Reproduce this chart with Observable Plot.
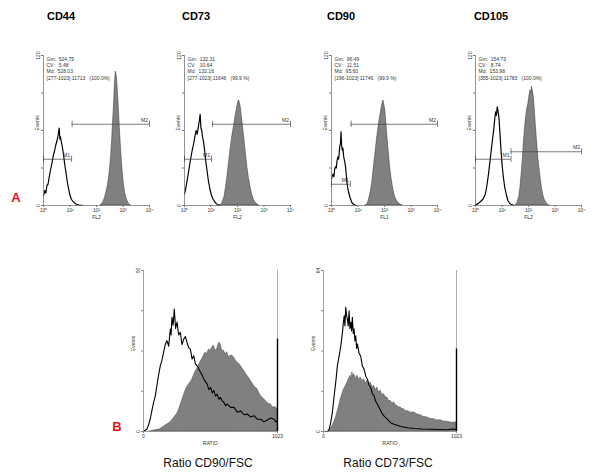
<!DOCTYPE html>
<html><head><meta charset="utf-8">
<script src="https://cdn.jsdelivr.net/npm/d3@7"></script>
<script src="https://cdn.jsdelivr.net/npm/@observablehq/plot@0.6"></script>
<style>
body{margin:0;background:#fff;font-family:"Liberation Sans",Arial,sans-serif}
#root{position:relative;width:600px;height:475px;overflow:hidden;background:#fff}
.abs{position:absolute}
.ttl{position:absolute;transform:translate(-50%,-50%);white-space:nowrap}
</style></head><body><div id="root"></div>
<script>
// ---------- DATA ----------
// Top row: x = log10 fluorescence (decades), y = events
const cd44Open = [[0,8],[0.05,12],[0.09,10],[0.13,16],[0.17,17],[0.21,22],[0.25,27],[0.29,31],[0.33,35],[0.37,40],[0.42,44],[0.46,48],[0.51,52],[0.55,56],[0.59,62],[0.62,53],[0.64,55],[0.68,50],[0.71,47],[0.76,40],[0.80,33],[0.85,26],[0.89,20],[0.94,14],[0.99,9],[1.05,5],[1.12,3],[1.2,1.5],[1.25,1],[1.35,0.3],[1.5,0]];
const cd44Filled = [[2.15,0],[2.2,1],[2.27,3],[2.33,7],[2.4,13],[2.46,20],[2.51,29],[2.55,39],[2.59,52],[2.62,65],[2.66,80],[2.69,95],[2.71,102],[2.73,107],[2.76,104],[2.78,100],[2.81,90],[2.84,79],[2.88,62],[2.93,44],[2.98,29],[3.03,17],[3.09,9],[3.16,4],[3.22,1.5],[3.3,0]];
const cd73Open = [[0,9],[0.05,14],[0.1,20],[0.16,28],[0.22,36],[0.28,43],[0.34,49],[0.39,55],[0.44,60],[0.48,57],[0.53,64],[0.56,68],[0.59,73],[0.62,62],[0.65,60],[0.68,55],[0.71,52],[0.76,44],[0.8,36],[0.85,28],[0.9,20],[0.96,13],[1.02,8],[1.08,5],[1.14,3],[1.2,1.5],[1.26,0.5],[1.35,0]];
const cd73Filled = [[1.32,0],[1.39,0.5],[1.45,3],[1.51,7],[1.57,15],[1.63,25],[1.69,36],[1.75,47],[1.81,56],[1.88,65],[1.94,73],[2.0,80],[2.03,83],[2.06,84],[2.09,82],[2.12,79],[2.18,68],[2.25,55],[2.31,43],[2.37,31],[2.43,22],[2.49,15],[2.55,9],[2.61,5],[2.68,2.5],[2.74,1],[2.82,0]];
const cd90Open = [[0,21],[0.03,24],[0.06,25],[0.09,23],[0.12,29],[0.15,31],[0.18,30],[0.21,36],[0.24,39],[0.27,37],[0.31,47],[0.34,50],[0.36,59],[0.38,48],[0.41,44],[0.43,46],[0.46,39],[0.5,35],[0.53,31],[0.56,24],[0.59,17],[0.64,11],[0.69,7],[0.74,4],[0.78,2],[0.83,1],[0.88,0.3],[0.95,0]];
const cd90Filled = [[1.28,0],[1.34,0.5],[1.39,3],[1.44,7],[1.49,12],[1.53,17],[1.57,25],[1.61,33],[1.66,42],[1.71,52],[1.76,60],[1.81,68],[1.86,74],[1.9,79],[1.93,82],[1.96,84],[1.99,81],[2.03,76],[2.07,66],[2.11,55],[2.16,43],[2.21,31],[2.27,21],[2.34,12],[2.4,7],[2.46,4],[2.53,2],[2.59,1],[2.69,0]];
const cd105Open = [[0,0.5],[0.1,1.5],[0.18,3],[0.28,5],[0.37,9],[0.43,16],[0.49,25],[0.55,36],[0.61,47],[0.66,56],[0.7,63],[0.73,70],[0.76,75],[0.79,72],[0.82,79],[0.85,76],[0.88,71],[0.91,62],[0.94,52],[0.97,42],[1.01,31],[1.05,23],[1.1,15],[1.16,9],[1.22,4],[1.28,2],[1.34,1],[1.46,0]];
const cd105Filled = [[1.52,0],[1.58,2],[1.65,7],[1.7,15],[1.74,25],[1.79,38],[1.83,52],[1.87,62],[1.91,71],[1.95,77],[1.99,81],[2.03,87],[2.07,92],[2.1,90],[2.13,95],[2.16,92],[2.2,87],[2.24,76],[2.28,63],[2.33,49],[2.38,36],[2.44,25],[2.5,15],[2.56,8],[2.62,4],[2.68,2],[2.74,0.5],[2.8,0]];

// Marker gates: [label, from (decade), to (decade), level (events)]
const cd44Markers = [["M1",0,1.06,37],["M2",1.08,4,65]];
const cd73Markers = [["M1",0,1.02,37],["M2",1.06,4,65]];
const cd90Markers = [["M1",0,0.71,17],["M2",0.74,4,65]];
const cd105Markers = [["M1",0,1.34,37],["M2",1.34,4,43]];

const cd44Stats = ["Gm:  524.75","CV:   5.48","Md:  528.03","[277-1023] 11713   (100.0%)"];
const cd73Stats = ["Gm:  132.31","CV:   10.64","Md:  132.16","[277-1023] 11646   (99.9 %)"];
const cd90Stats = ["Gm:  96.49","CV:   11.51","Md:  95.60","[196-1023] 11746   (99.9 %)"];
const cd105Stats = ["Gm:  154.73","CV:   8.74","Md:  153.98","[355-1023] 11783   (100.0%)"];

const topTitles = ["CD44","CD73","CD90","CD105"];
const topXLabels = ["FL2","FL2","FL1","FL2"];
const topYMax = 120;
const decadeTicks = [0,1,2,3,4];

// Bottom row: x = ratio channel (0-1023), y = events
const b1Open = [[0,0],[10,0.3],[26,0.7],[38,2],[51,3.8],[64,6.5],[77,9],[90,11],[102,14.2],[115,17.5],[128,20.4],[140,22],[153,24.6],[166,27],[179,28.2],[192,26.5],[205,31.8],[211,30],[217,35.5],[226,33],[235,38],[245,32],[256,34],[268,30],[281,30.8],[294,27],[307,28.7],[320,29.5],[332,27.7],[345,26],[358,25.6],[371,22.5],[384,23.5],[396,21],[409,20.4],[422,19.5],[435,18.4],[448,17.5],[460,16.3],[473,15.5],[486,14.7],[499,13],[512,13.7],[525,12],[537,12.7],[550,11],[563,11.6],[576,10],[588,10.6],[601,9.5],[614,9],[627,8],[639,8.5],[665,7.5],[691,7.5],[716,6],[742,6.4],[768,5.2],[793,5.4],[818,4.5],[844,4.9],[870,3.8],[895,3.8],[920,3],[946,3.6],[972,4.2],[997,3.8],[1010,3],[1023,3.3]];
const b1Filled = [[51,0],[80,0.3],[128,0.7],[166,1.8],[205,2.8],[230,4],[256,5.4],[269,6.5],[281,8],[294,9.5],[307,11],[320,12.5],[332,13.7],[345,14.5],[358,15.2],[371,16],[384,17.3],[396,18.5],[409,19.4],[422,20.5],[435,21.5],[448,22.5],[460,23.5],[473,24.5],[486,24],[499,25.5],[512,25.1],[525,26],[537,26.7],[550,25],[563,25.6],[576,27.5],[588,27.2],[601,25],[614,25.1],[627,24],[639,24.6],[652,23],[665,23.5],[678,23.5],[691,23],[704,22],[716,21.5],[729,21],[742,20.4],[755,19.5],[768,18.9],[781,18],[793,17.3],[806,16.5],[818,15.8],[831,15],[844,14.2],[857,13.5],[870,13.2],[882,12],[895,11.1],[908,10.5],[921,10],[934,9.5],[946,9],[959,8.5],[972,8.5],[985,7.5],[997,7.5],[1010,7.5],[1023,7]];
const b2Open = [[0,0],[31,0],[44,1],[56,3.6],[69,8],[82,14.2],[95,20],[107,26.2],[120,30],[133,34],[140,37],[146,39.4],[152,43],[159,46],[165,42],[171,49.4],[178,46],[184,44.6],[190,42],[197,48],[203,41],[210,43.4],[216,40],[222,45.4],[229,39],[235,40.8],[242,36],[248,38],[255,33],[261,34.8],[274,31],[286,30],[299,26],[312,24.8],[325,22],[338,20.8],[350,18.5],[363,17.5],[376,15],[389,14.2],[401,12],[414,10.9],[427,9.5],[440,8.2],[452,7],[465,6.2],[478,5.5],[491,4.9],[516,3.5],[542,2.9],[568,2.5],[593,2],[645,1.5],[696,1.2],[760,1],[824,0.9],[890,0.8],[951,0.7],[990,1],[1023,0.9]];
const b2Filled = [[43,0],[62,1.5],[82,3.6],[95,5.5],[107,7.6],[120,10],[133,12.9],[146,15],[159,16.9],[171,18],[184,19.5],[197,21],[210,22.2],[216,20.5],[222,23.5],[229,21.5],[235,22.8],[248,21],[261,22.2],[274,20.5],[286,21.5],[299,20],[312,20.8],[325,19],[338,20.2],[350,18.5],[363,19.5],[376,17.5],[389,18.2],[401,16.5],[414,17.5],[427,15.5],[440,16.2],[452,14.5],[465,14.9],[478,13.5],[491,13.5],[504,12],[517,12.2],[530,11],[542,11.6],[555,10.5],[568,10.2],[580,9.5],[593,9.6],[606,8.8],[619,8.9],[632,8],[645,8.2],[670,7.5],[696,7.6],[721,6.8],[747,6.5],[772,5.8],[798,5.6],[823,5],[849,4.9],[875,4.4],[900,4.5],[925,4],[951,3.9],[987,3.5],[1023,3.6]];
const b1Spike = 28.7;
const b2Spike = 32.8;
const bottomYMax = [50, 64];
const bottomCaptions = ["Ratio CD90/FSC","Ratio CD73/FSC"];
const ratioTicks = [0, 1023];

// ---------- DRAWING ----------
const root = document.getElementById("root");
const FONT = "'Liberation Sans', Arial, sans-serif";
const sup = ["\u2070","\u00b9","\u00b2","\u00b3","\u2074"];
const pts = a => a.map(([x, y]) => ({x, y}));

function place(el, left, top) {
  el.style.position = "absolute";
  el.style.left = left + "px";
  el.style.top = top + "px";
  root.appendChild(el);
}
function label(text, cx, cy, css) {
  const d = document.createElement("div");
  d.className = "ttl";
  d.textContent = text;
  d.style.left = cx + "px";
  d.style.top = cy + "px";
  Object.assign(d.style, css);
  root.appendChild(d);
}

function topPanel(open, filled, markers, stats, xlab) {
  const mk = markers.map(([lab, x1, x2, y]) => ({lab, x1, x2, y}));
  const ends = mk.flatMap(m => [{x: m.x1, y: m.y}, {x: m.x2, y: m.y}]);
  return Plot.plot({
    width: 136, height: 190, marginLeft: 20, marginRight: 10, marginTop: 15, marginBottom: 25,
    style: {fontFamily: FONT, fontSize: "5px", color: "#333", background: "transparent", overflow: "visible"},
    x: {domain: [0, 4]},
    y: {domain: [0, topYMax]},
    marks: [
      Plot.areaY(pts(filled), {x: "x", y: "y", fill: "#808080", stroke: "#333", strokeWidth: 0.5}),
      Plot.lineY(pts(open), {x: "x", y: "y", stroke: "#000", strokeWidth: 1.2}),
      Plot.ruleX([0], {stroke: "#777", strokeWidth: 0.8}),
      Plot.ruleY([0], {stroke: "#777", strokeWidth: 0.8}),
      Plot.ruleY(mk, {y: "y", x1: "x1", x2: "x2", stroke: "#444", strokeWidth: 0.7}),
      Plot.ruleX(ends, {x: "x", y1: d => d.y - 2.5, y2: d => d.y + 2.5, stroke: "#444", strokeWidth: 0.7}),
      Plot.text(mk, {x: "x2", y: "y", text: "lab", dx: -5, dy: -4, fontSize: 5, fill: "#333"}),
      Plot.axisX({ticks: decadeTicks, tickFormat: d => "10" + sup[d], tickSize: 2, tickPadding: 1, label: null, fontSize: 5, stroke: "#777"}),
      Plot.axisY({ticks: [0, topYMax], tickFormat: d => String(d), tickRotate: -90, tickSize: 2, tickPadding: 2, label: null, fontSize: 5, stroke: "#777"}),
      Plot.axisY({ticks: [30, 60, 90], tickFormat: () => "", tickSize: 2, label: null, stroke: "#777"}),
      Plot.text([stats.join("\n")], {frameAnchor: "top-left", textAnchor: "start", lineAnchor: "top", dx: 3, dy: 1, fontSize: 5, lineHeight: 1.25, fill: "#333"}),
      Plot.text(["Events"], {frameAnchor: "left", rotate: -90, dx: -6, fontSize: 5, fill: "#333"}),
      Plot.text([xlab], {frameAnchor: "bottom", dy: 13, fontSize: 5, fill: "#333"})
    ]
  });
}

function bottomPanel(open, filled, spike, ymax, w) {
  return Plot.plot({
    width: 25 + w + 8, height: 191, marginLeft: 25, marginRight: 8, marginTop: 10, marginBottom: 20,
    style: {fontFamily: FONT, fontSize: "5px", color: "#333", background: "transparent", overflow: "visible"},
    x: {domain: [0, 1023]},
    y: {domain: [0, ymax]},
    marks: [
      Plot.areaY(pts(filled), {x: "x", y: "y", fill: "#808080", stroke: "#444", strokeWidth: 0.5}),
      Plot.lineY(pts(open), {x: "x", y: "y", stroke: "#000", strokeWidth: 1.1}),
      Plot.ruleX([0], {stroke: "#888", strokeWidth: 0.8}),
      Plot.ruleX([1023], {stroke: "#999", strokeWidth: 0.8}),
      Plot.ruleX([spike], {x: () => 1023, y1: 0, y2: d => d, stroke: "#000", strokeWidth: 1.4}),
      Plot.ruleY([0], {stroke: "#888", strokeWidth: 0.8}),
      Plot.axisX({ticks: ratioTicks, tickFormat: d => String(d), tickSize: 2, tickPadding: 1, label: null, fontSize: 5, stroke: "#888"}),
      Plot.axisY({ticks: [0, ymax], tickFormat: d => String(d), tickRotate: -90, tickSize: 2, tickPadding: 2, label: null, fontSize: 5, stroke: "#888"}),
      Plot.axisY({ticks: [ymax / 4, ymax / 2, ymax * 3 / 4], tickFormat: () => "", tickSize: 2, label: null, stroke: "#888"}),
      Plot.text(["Events"], {frameAnchor: "left", rotate: -90, dx: -10, fontSize: 5, fill: "#333"}),
      Plot.text(["RATIO"], {frameAnchor: "bottom", dy: 13, fontSize: 5, fill: "#333"})
    ]
  });
}

const tops = [
  [cd44Open, cd44Filled, cd44Markers, cd44Stats, 23],
  [cd73Open, cd73Filled, cd73Markers, cd73Stats, 164],
  [cd90Open, cd90Filled, cd90Markers, cd90Stats, 311],
  [cd105Open, cd105Filled, cd105Markers, cd105Stats, 455]
];
tops.forEach(([o, f, m, s, left], i) => {
  place(topPanel(o, f, m, s, topXLabels[i]), left, 40);
});
const titleX = [61, 196, 341, 491];
topTitles.forEach((t, i) => label(t, titleX[i], 16, {fontWeight: "bold", fontSize: "11px", fontFamily: FONT, color: "#000"}));

place(bottomPanel(b1Open, b1Filled, b1Spike, bottomYMax[0], 134), 118, 260);
place(bottomPanel(b2Open, b2Filled, b2Spike, bottomYMax[1], 133), 298, 260);
label(bottomCaptions[0], 208, 463, {fontSize: "12px", fontFamily: FONT, color: "#111"});
label(bottomCaptions[1], 388, 463, {fontSize: "12px", fontFamily: FONT, color: "#111"});

label("A", 16, 197, {fontWeight: "bold", fontSize: "13px", fontFamily: FONT, color: "#e8141c"});
label("B", 117, 426, {fontWeight: "bold", fontSize: "13px", fontFamily: FONT, color: "#e8141c"});
</script></body></html>
